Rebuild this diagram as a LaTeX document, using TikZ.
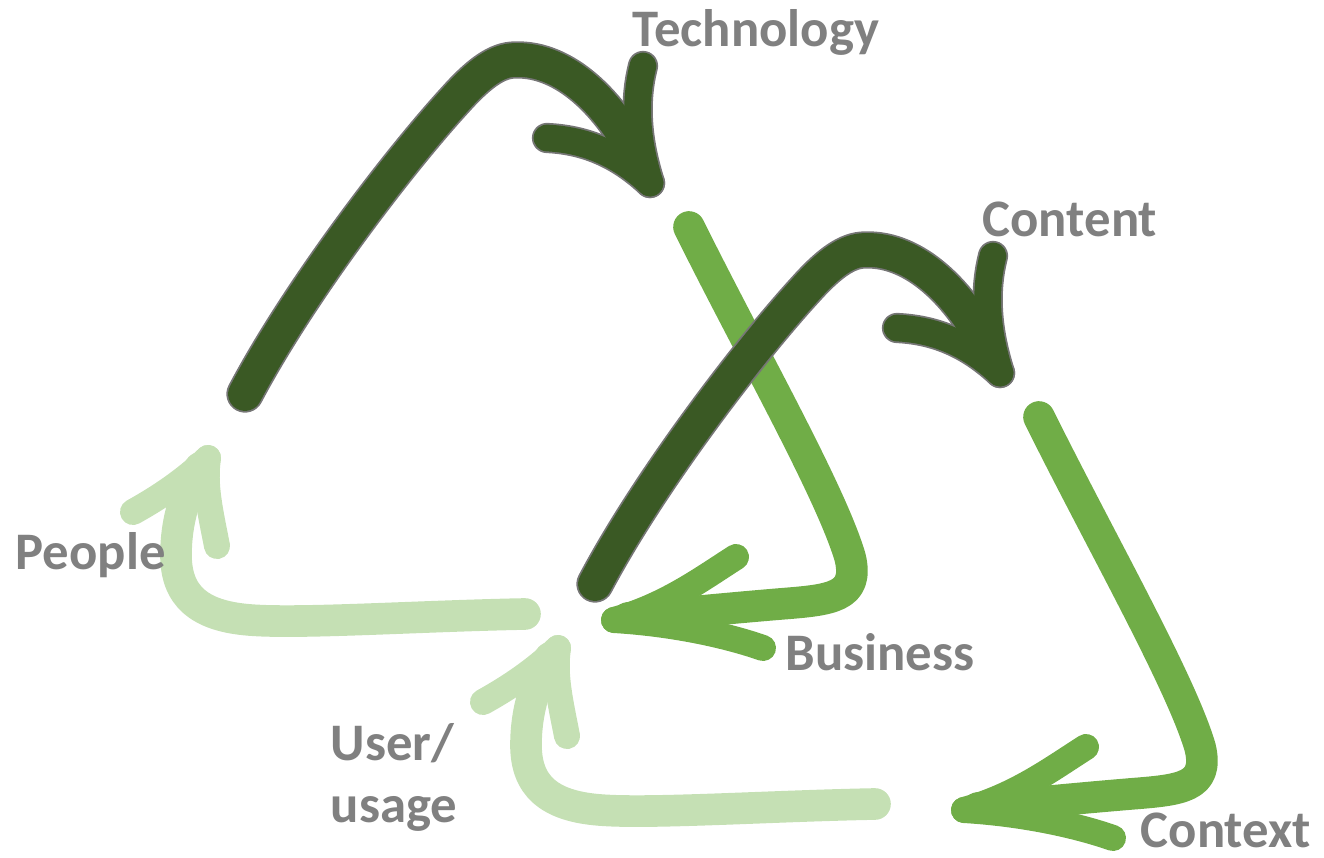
\documentclass[tikz,border=0pt]{standalone}
\usepackage{fontspec}
\setmainfont{Carlito}

\definecolor{techgreen}{HTML}{3A5924}
\definecolor{bizgreen}{HTML}{70AD47}
\definecolor{usergreen}{HTML}{C5E0B4}
\definecolor{rimgray}{HTML}{767676}
\definecolor{labelgray}{HTML}{808080}

\tikzset{
  lbl/.style={text=labelgray, font=\fontsize{15pt}{17.6pt}\selectfont\bfseries, inner sep=0pt, align=left},
  stroke/.style={line cap=round, line join=round},
  shaftw/.style={stroke, line width=9pt},
  barbw/.style={stroke, line width=7.4pt},
}

\begin{document}
\begin{tikzpicture}[x=0.01cm, y=-0.01cm]
	\useasboundingbox (0,0) rectangle (1324,858);

	% two cycles, the second one shifted down right
	\foreach \t/\dx/\dy in {a/0/0, b/350/190} {
		\begin{scope}[shift={(\dx,\dy)}]
			% user / usage arrow
			\coordinate (\t-ls) at (525,614);
			\coordinate (\t-lt) at (208,458);
			\coordinate (\t-lb1) at (133,512);
			\coordinate (\t-lb2) at (217,546);
			\draw[shaftw, usergreen] (\t-ls) .. controls (420,616) and (300,624) .. (250,620)
				.. controls (198,616) and (176,595) .. (176,555)
				.. controls (176,520) and (186,490) .. (200,468);
			\draw[barbw, usergreen] (\t-lb1) .. controls (160,497) and (185,480) .. (\t-lt);
			\draw[barbw, usergreen] (\t-lb2) .. controls (210,510) and (204,485) .. (\t-lt);

			% business arrow
			\coordinate (\t-ms) at (689,227);
			\coordinate (\t-mc) at (850,557);
			\coordinate (\t-mt) at (614,620);
			\coordinate (\t-mb1) at (736,557);
			\coordinate (\t-mb2) at (763,648);
			\draw[shaftw, bizgreen] (\t-ms) .. controls (750,350) and (830,490) .. (\t-mc)
				.. controls (860,598) and (830,600) .. (780,604)
				.. controls (720,609) and (660,615) .. (628,618);
			\draw[barbw, bizgreen] (\t-mb1) .. controls (700,580) and (665,606) .. (\t-mt);
			\draw[barbw, bizgreen] (\t-mb2) .. controls (720,633) and (665,623) .. (\t-mt);

			% technology arrow, grey rim first
			\coordinate (\t-ds) at (245,394);
			\coordinate (\t-dm) at (515,60);
			\coordinate (\t-dt) at (650,183);
			\coordinate (\t-db1) at (547,138);
			\coordinate (\t-db2) at (643,66);
			\foreach \c/\w/\v in {rimgray/10.6pt/8.6pt, techgreen/9.6pt/7.6pt} {
				\draw[stroke, line width=\w, \c] (\t-ds) .. controls (300,290) and (400,160) .. (455,100)
					.. controls (480,72) and (498,60) .. (\t-dm)
					.. controls (565,58) and (612,105) .. (638,160);
				\draw[stroke, line width=\v, \c] (\t-db1) .. controls (590,140) and (622,157) .. (\t-dt);
				\draw[stroke, line width=\v, \c] (\t-db2) .. controls (633,105) and (638,145) .. (\t-dt);
			}
		\end{scope}
	}

	% labels
	\node[lbl, anchor=base west] (tech) at (632,47) {Technology};
	\node[lbl, anchor=base west] (content) at (982,237) {Content};
	\node[lbl, anchor=base west] (people) at (15,570) {People};
	\node[lbl, anchor=base west] (business) at (785,670) {Business};
	\node[lbl, anchor=base west] (user) at (330,822) {User/\\usage};
	\node[lbl, anchor=base west] (context) at (1140,847) {Context};
\end{tikzpicture}
\end{document}
